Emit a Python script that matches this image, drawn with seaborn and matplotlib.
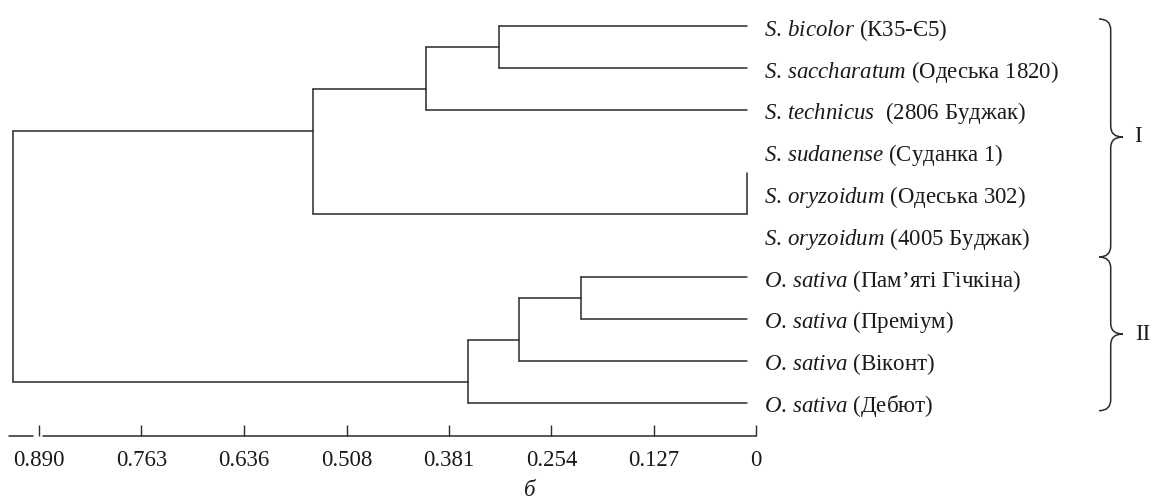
import numpy as np
import pandas as pd
import matplotlib
matplotlib.use("Agg")
import matplotlib.pyplot as plt
from matplotlib.path import Path
from matplotlib.patches import PathPatch
import seaborn as sns

sns.set_theme(style="white")
plt.rcParams['font.family'] = ['Liberation Serif', 'DejaVu Serif']
plt.rcParams['mathtext.fontset'] = 'custom'
plt.rcParams['mathtext.it'] = 'Liberation Serif:italic'
plt.rcParams['mathtext.rm'] = 'Liberation Serif'

# leaves, top to bottom
species = ["S. bicolor", "S. saccharatum", "S. technicus", "S. sudanense",
           "S. oryzoidum", "S. oryzoidum", "O. sativa", "O. sativa",
           "O. sativa", "O. sativa"]
cultivars = ["(К35-Є5)", "(Одеська 1820)", " (2806 Буджак)", "(Суданка 1)",
             "(Одеська 302)", "(4005 Буджак)", "(Пам’яті Гічкіна)", "(Преміум)",
             "(Віконт)", "(Дебют)"]
leaf_parent = [0, 0, 1, 2, 2, 2, 4, 4, 5, 6]
leaf_end = 0.011

# internal nodes: linkage distance, vertical span (in leaf rows), outgoing row, parent
node_dist = [0.319, 0.410, 0.011, 0.550, 0.217, 0.294, 0.358, 0.922]
node_lo = [0, 0.5, 3.5, 1.5, 6, 6.5, 7.5, 2.5]
node_hi = [1, 2, 4.5, 4.5, 7, 8, 9, 8.5]
node_out = [0.5, 1.5, 4.5, 2.5, 6.5, 7.5, 8.5, None]
node_parent = [1, 3, 3, 7, 5, 6, 7, None]

ticks = [0.890, 0.763, 0.636, 0.508, 0.381, 0.254, 0.127, 0]
tick_labels = ["0.890", "0.763", "0.636", "0.508", "0.381", "0.254", "0.127", "0"]
groups = ["I", "II"]

# build segments of the tree
segs = []
sid = 0
for i, p in enumerate(leaf_parent):
    if node_dist[p] > leaf_end:
        segs += [(sid, leaf_end, i), (sid, node_dist[p], i)]
        sid += 1
for j, d in enumerate(node_dist):
    segs += [(sid, d, node_lo[j]), (sid, d, node_hi[j])]
    sid += 1
    if node_parent[j] is not None:
        segs += [(sid, d, node_out[j]), (sid, node_dist[node_parent[j]], node_out[j])]
        sid += 1
df = pd.DataFrame(segs, columns=["seg", "dist", "row"])

W, H = 1156, 501
fig = plt.figure(figsize=(W / 100, H / 100), dpi=100)
ax = fig.add_axes([9 / W, (H - 436) / H, 747 / W, 431 / H])

line_col = "#2a2a2a"
txt_col = "#1a1a1a"
sns.lineplot(data=df, x="dist", y="row", units="seg", estimator=None, sort=False,
             color=line_col, linewidth=1.1, ax=ax, legend=False)

ax.set_xlim(0.9274, 0)
ax.set_ylim(9.80, -0.51)
for s in ax.spines.values():
    s.set_visible(False)

# broken axis line
tr = ax.get_xaxis_transform()
ax.plot([0.9274, 0.898], [0, 0], transform=tr, color=line_col, lw=1.1, clip_on=False)
ax.plot([0.8848, 0], [0, 0], transform=tr, color=line_col, lw=1.1, clip_on=False)

ax.set_xticks(ticks)
ax.set_xticklabels(tick_labels)
ax.tick_params(axis="x", direction="in", length=8, width=1.0, color=line_col,
               pad=10, labelsize=16.5, labelcolor=txt_col, bottom=True)

labels = []
for sp, cv in zip(species, cultivars):
    labels.append("$\\mathit{" + sp.replace(" ", "\\,") + "}$ " + cv)
ax.set_yticks(range(len(species)))
ax.set_yticklabels(labels)
ax.tick_params(axis="y", left=False, right=False, labelleft=False, labelright=True,
               pad=0, labelsize=16.5, labelcolor=txt_col)
ax.set_xlabel("")
ax.set_ylabel("")
ax.grid(False)

# braces and group labels in pixel coordinates
ov = fig.add_axes([0, 0, 1, 1])
ov.set_xlim(0, W)
ov.set_ylim(H, 0)
ov.axis("off")
ov.patch.set_alpha(0)


def brace(top, mid, bot, xl=1099, xm=1110.7, xt=1122.7, r=11):
    verts = [(xl, top), (xm, top), (xm, top + r),
             (xm, mid - r), (xm, mid), (xt, mid),
             (xm, mid), (xm, mid + r),
             (xm, bot - r), (xm, bot), (xl, bot)]
    codes = [Path.MOVETO, Path.CURVE3, Path.CURVE3,
             Path.LINETO, Path.CURVE3, Path.CURVE3,
             Path.CURVE3, Path.CURVE3,
             Path.LINETO, Path.CURVE3, Path.CURVE3]
    ov.add_patch(PathPatch(Path(verts, codes), fill=False, ec=line_col, lw=1.1))


brace(19, 137, 257)
brace(257, 334, 410.7)
ov.text(1138, 137, groups[0], fontsize=16.5, ha="center", va="center", color=txt_col)
ov.text(1143, 334, groups[1], fontsize=16.5, ha="center", va="center", color=txt_col)
ov.text(530, 490, "б", fontsize=16.5, style="italic", ha="center", va="center", color=txt_col)

fig.savefig("out.png", dpi=100, facecolor="white")
